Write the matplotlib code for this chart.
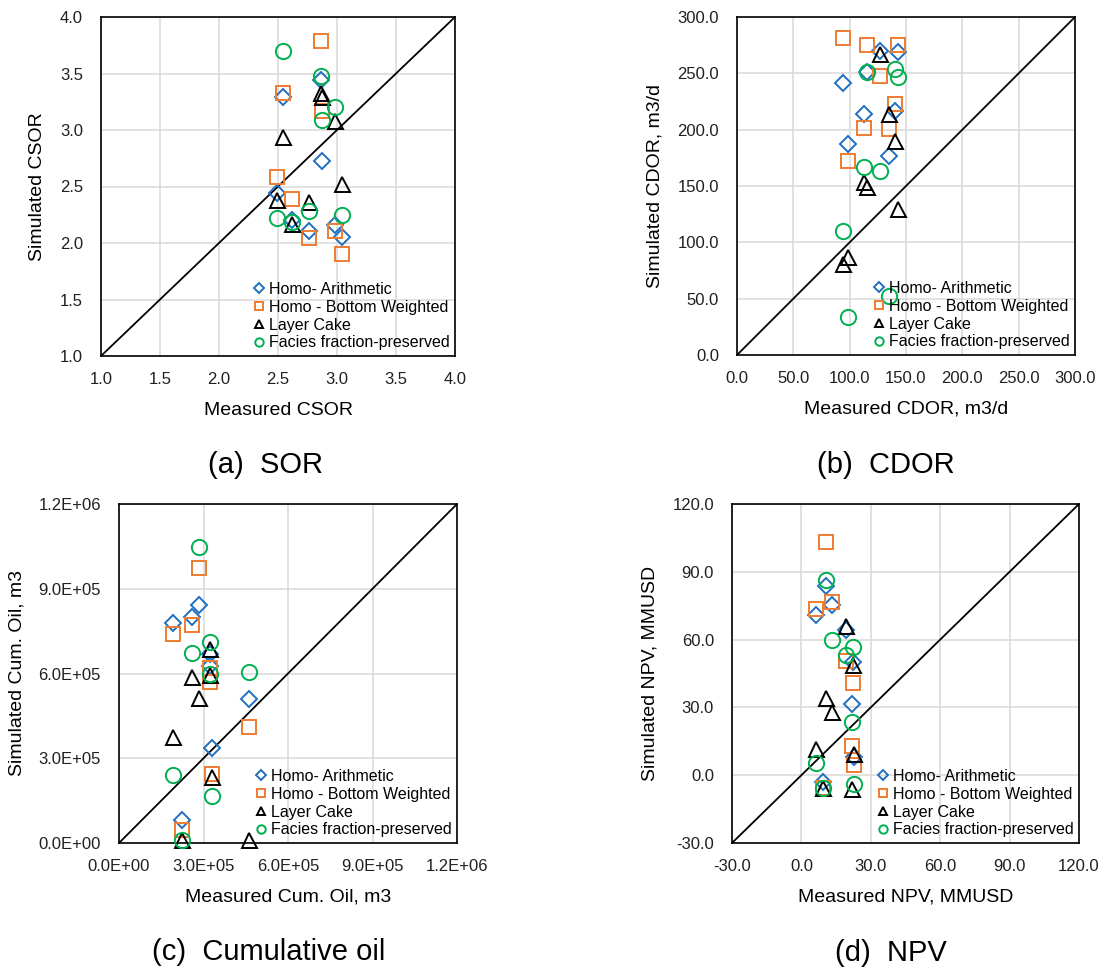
import matplotlib
matplotlib.use('Agg')
import matplotlib.pyplot as plt
from matplotlib.ticker import MultipleLocator, FuncFormatter

plt.rcParams['font.family'] = ['Liberation Sans', 'DejaVu Sans']

W, H = 1105, 967

series_labels = ['Homo- Arithmetic', 'Homo - Bottom Weighted', 'Layer Cake', 'Facies fraction-preserved']
series_markers = ['D', 's', '^', 'o']
series_colors = ['#1F6FC2', '#ED7D31', '#000000', '#00B050']
series_sizes = [8.6, 9.6, 10.8, 11.0]

########## (a) CSOR ##########
sor_meas   = [2.49, 2.545, 2.62, 2.76, 2.865, 2.875, 2.98, 3.04]
sor_arith  = [2.44, 3.29, 2.20, 2.11, 3.44, 2.73, 2.16, 2.05]
sor_bottom = [2.58, 3.33, 2.39, 2.04, 3.785, 3.17, 2.11, 1.90]
sor_layer  = [2.38, 2.94, 2.17, 2.36, 3.33, 3.29, 3.08, 2.52]
sor_facies = [2.22, 3.70, 2.19, 2.28, 3.475, 3.085, 3.20, 2.245]

########## (b) CDOR, m3/d ##########
cdor_meas   = [94.0, 98.7, 113.0, 115.0, 127.0, 134.5, 140.5, 142.5]
cdor_arith  = [241.5, 187.0, 214.0, 251.0, 270.0, 176.5, 217.0, 269.0]
cdor_bottom = [281.0, 172.6, 201.6, 275.5, 248.0, 200.4, 222.6, 275.5]
cdor_layer  = [81.0, 87.0, 153.7, 149.0, 267.5, 214.0, 190.0, 130.0]
cdor_facies = [110.0, 34.0, 167.0, 251.0, 163.0, 52.0, 254.0, 247.0]

########## (c) Cumulative oil, m3 ##########
oil_meas   = [1.93e5, 2.23e5, 2.60e5, 2.85e5, 3.23e5, 3.23e5, 3.31e5, 4.63e5]
oil_arith  = [7.80e5, 0.80e5, 7.99e5, 8.43e5, 6.70e5, 6.25e5, 3.35e5, 5.09e5]
oil_bottom = [7.39e5, 0.45e5, 7.72e5, 9.73e5, 6.19e5, 5.71e5, 2.44e5, 4.12e5]
oil_layer  = [3.74e5, 0.10e5, 5.89e5, 5.14e5, 6.86e5, 5.95e5, 2.34e5, 0.10e5]
oil_facies = [2.40e5, 0.12e5, 6.74e5, 10.48e5, 7.13e5, 5.98e5, 1.67e5, 6.07e5]

########## (d) NPV, MMUSD ##########
npv_meas   = [6.1, 9.2, 10.8, 13.3, 19.4, 21.8, 22.5, 22.6]
npv_arith  = [70.9, -3.0, 83.5, 75.4, 64.3, 31.5, 50.2, 8.1]
npv_bottom = [73.4, -5.6, 103.0, 76.8, 50.7, 12.9, 40.9, 4.3]
npv_layer  = [11.4, -5.6, 34.0, 28.1, 65.8, -6.2, 48.8, 9.6]
npv_facies = [5.5, -5.6, 86.5, 59.9, 53.2, 23.6, 56.9, -4.1]


def px_rect(left, top, right, bottom):
    return [left / W, 1 - bottom / H, (right - left) / W, (bottom - top) / H]


def panel(fig, rect, meas, sims, lim, step, fmt, xlabel, ylabel, ylab_x):
    ax = fig.add_axes(px_rect(*rect))
    ax.set_xlim(lim)
    ax.set_ylim(lim)
    ax.xaxis.set_major_locator(MultipleLocator(step))
    ax.yaxis.set_major_locator(MultipleLocator(step))
    ax.xaxis.set_major_formatter(FuncFormatter(fmt))
    ax.yaxis.set_major_formatter(FuncFormatter(fmt))
    ax.grid(True, color='#D9D9D9', lw=1.1)
    ax.set_axisbelow(True)
    ax.tick_params(axis='both', length=0, labelsize=12, colors='#202020')
    ax.tick_params(axis='x', pad=11.5)
    ax.tick_params(axis='y', pad=13)
    for s in ax.spines.values():
        s.set_linewidth(1.2)
        s.set_color('black')

    # 1:1 line
    ax.plot(lim, lim, color='black', lw=1.3, zorder=2)

    for sim, lab, mk, col, ms in zip(sims, series_labels, series_markers,
                                     series_colors, series_sizes):
        ax.plot(meas, sim, linestyle='none', marker=mk, ms=ms, mfc='none',
                mec=col, mew=1.4, label=lab, zorder=3, clip_on=False)

    ax.set_xlabel(xlabel, fontsize=14, va='center')
    ax.set_ylabel(ylabel, fontsize=14, va='center')
    ax.xaxis.set_label_coords(0.5, -0.160)
    ax.yaxis.set_label_coords(ylab_x, 0.5)

    ax.legend(loc='lower right', bbox_to_anchor=(1.0, 0.0), frameon=False,
              fontsize=11.5, markerscale=0.55, handlelength=0.6,
              handletextpad=0.33, labelspacing=0.18, borderpad=0.15,
              borderaxespad=0.2)
    return ax


fig = plt.figure(figsize=(W / 100, H / 100), dpi=100)

f1 = lambda v, p: '%.1f' % v
fe = lambda v, p: '%.1E' % v

panel(fig, (101, 17, 455, 356), sor_meas,
      [sor_arith, sor_bottom, sor_layer, sor_facies], (1.0, 4.0), 0.5, f1,
      'Measured CSOR', 'Simulated CSOR', -0.178)
panel(fig, (737, 17, 1075, 355), cdor_meas,
      [cdor_arith, cdor_bottom, cdor_layer, cdor_facies], (0.0, 300.0), 50.0, f1,
      'Measured CDOR, m3/d', 'Simulated CDOR, m3/d', -0.243)
panel(fig, (119, 504, 457, 843), oil_meas,
      [oil_arith, oil_bottom, oil_layer, oil_facies], (0.0, 1.2e6), 3.0e5, fe,
      'Measured Cum. Oil, m3', 'Simulated Cum. Oil, m3', -0.302)
panel(fig, (732, 504, 1079, 843), npv_meas,
      [npv_arith, npv_bottom, npv_layer, npv_facies], (-30.0, 120.0), 30.0, f1,
      'Measured NPV, MMUSD', 'Simulated NPV, MMUSD', -0.236)

captions = ['(a)  SOR', '(b)  CDOR', '(c)  Cumulative oil', '(d)  NPV']
cap_xy = [(265, 465), (886, 465), (269, 952), (891, 953)]
for txt, (cx, cy) in zip(captions, cap_xy):
    fig.text(cx / W, 1 - cy / H, txt, fontsize=21, ha='center', va='center')

fig.savefig('out.png', dpi=100)
